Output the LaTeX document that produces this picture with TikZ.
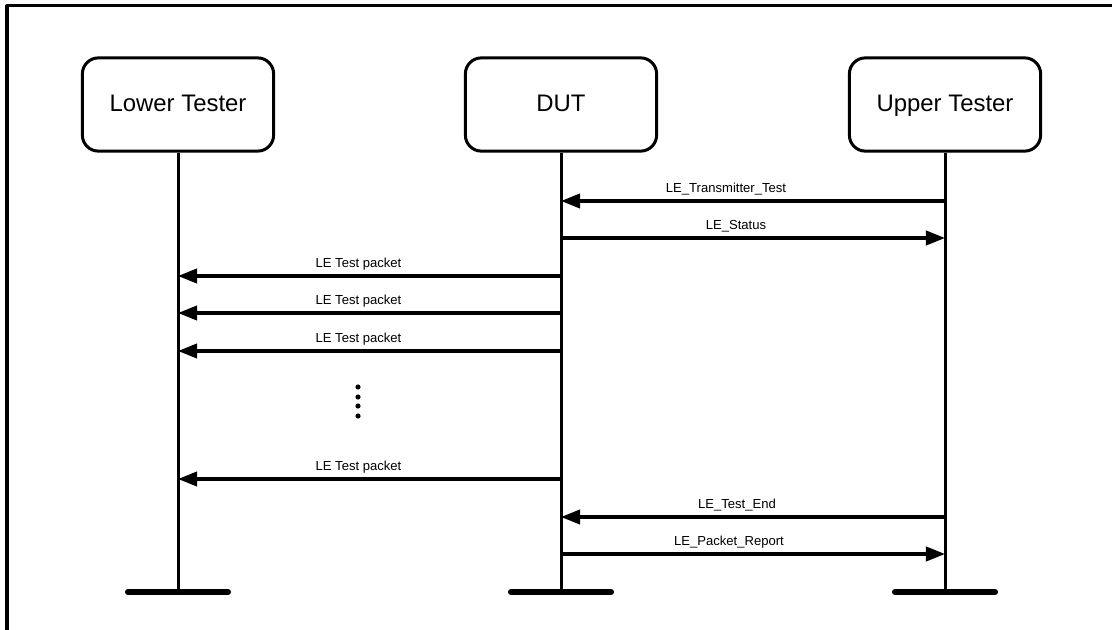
\documentclass[tikz,border=0pt]{standalone}
\usepackage{fontspec}
\setmainfont{Liberation Sans}
\usepackage{tikz}
\usetikzlibrary{arrows.meta,calc}

\begin{document}
\begin{tikzpicture}[
    x=0.025cm,
    y=-0.025cm,
    every path/.style={line join=round},
    actor/.style={draw,line width=0.075cm,rounded corners=0.4cm,
      minimum width=4.78cm,minimum height=2.33cm,
      font=\fontsize{17}{17}\selectfont,text height=1.05em,text depth=0pt},
    lifeline/.style={line width=0.075cm},
    footbar/.style={line width=0.15cm,line cap=round},
    message/.style={line width=0.08cm,-{Triangle[length=0.48cm,width=0.36cm]}},
    msglabel/.style={font=\fontsize{9.3}{9.3}\selectfont,anchor=base,
      yshift=0.21cm,inner sep=0pt}
  ]
    \useasboundingbox (0,0) rectangle (1112,630);

    % Open frame along the top and left edges.
    \draw[line width=0.075cm] (1112,6) -- (7,6) -- (7,630);

    % Actors, their lifelines and foot bars.
    \foreach \who/\cx/\txt in {lower/178/Lower Tester,dut/561/DUT,upper/945/Upper Tester}{%
      \node[actor] (\who) at (\cx,104.5) {\txt};
      \coordinate (\who foot) at (\who.south |- 0,592);
      \draw[lifeline] (\who) -- (\who foot);
      \draw[footbar] ($(\who foot)+(-50,0)$) -- ($(\who foot)+(50,0)$);
      \foreach \row/\ry in {1/201,2/238,3/276,4/313,5/351,6/479,7/517,8/554}{%
        \coordinate (\who\row) at (\who.south |- 0,\ry);
      }
    }

    % Messages between the lifelines.
    \foreach \src/\dst/\dx/\txt in {%
        upper1/dut1/-27/LE\_Transmitter\_Test,
        dut2/upper2/-17/LE\_Status,
        dut3/lower3/-11/LE Test packet,
        dut4/lower4/-11/LE Test packet,
        dut5/lower5/-11/LE Test packet,
        dut6/lower6/-11/LE Test packet,
        upper7/dut7/-16/LE\_Test\_End,
        dut8/upper8/-24/LE\_Packet\_Report}{%
      \draw[message] (\src) -- node[msglabel,xshift=\dx*0.025cm] {\txt} (\dst);
    }

    % Vertical ellipsis for the repeated packets.
    \foreach \dy in {387,397,406,416}{%
      \fill (358,\dy) circle (2.6);
    }
  \end{tikzpicture}
\end{document}
